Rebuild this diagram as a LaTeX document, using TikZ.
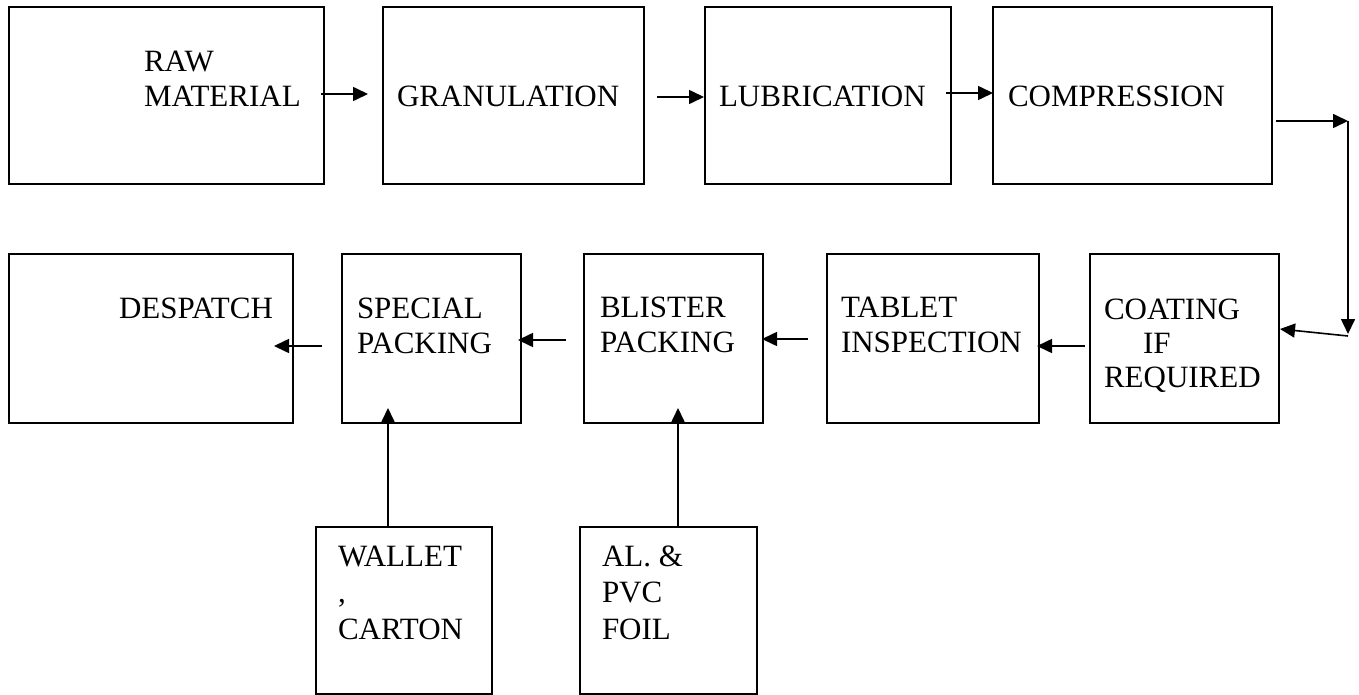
\documentclass[tikz,border=0pt]{standalone}
\usepackage{fontspec}
\setmainfont{Liberation Serif}
\usetikzlibrary{arrows.meta,calc}
\begin{document}
\begin{tikzpicture}[x=1pt,y=-1pt,
  box/.style={draw,line width=2.2pt,inner sep=0pt,outer sep=0pt},
  lbl/.style={inner sep=0pt,outer sep=0pt,align=left,anchor=base west,font=\fontsize{31}{35}\selectfont},
  arr/.style={line width=1.6pt,-{Triangle[length=15pt,width=14pt]}}]
\useasboundingbox (0,0) rectangle (1359,695);
% boxes
\node[box,minimum width=315pt,minimum height=177pt] (raw)  at (166.5,95.5) {};
\node[box,minimum width=261pt,minimum height=177pt] (gran) at (513.5,95.5) {};
\node[box,minimum width=246pt,minimum height=177pt] (lub)  at (828,95.5) {};
\node[box,minimum width=279pt,minimum height=177pt] (comp) at (1132.5,95.5) {};
\node[box,minimum width=284pt,minimum height=169pt] (desp) at (151,338.5) {};
\node[box,minimum width=179pt,minimum height=169pt] (spec) at (431.5,338.5) {};
\node[box,minimum width=179pt,minimum height=169pt] (blis) at (673.5,338.5) {};
\node[box,minimum width=212pt,minimum height=169pt] (tab)  at (933,338.5) {};
\node[box,minimum width=189pt,minimum height=169pt] (coat) at (1184.5,338.5) {};
\node[box,minimum width=176pt,minimum height=167pt] (wal)  at (404,610.5) {};
\node[box,minimum width=177pt,minimum height=167pt] (al)   at (668.5,610.5) {};
% labels (anchor = baseline of the last line)
\node[lbl] (rawt)  at (144,107) {RAW\\MATERIAL};
\node[lbl] (grant) at (397,107) {GRANULATION};
\node[lbl] (lubt)  at (719,107) {LUBRICATION};
\node[lbl] (compt) at (1008,107) {COMPRESSION};
\node[lbl] (despt) at (119,318) {DESPATCH};
\node[lbl] (spect) at (357,353) {SPECIAL\\PACKING};
\node[lbl] (blist) at (600,352) {BLISTER\\PACKING};
\node[lbl] (tabt)  at (841,352) {TABLET\\INSPECTION};
\node[lbl,font=\fontsize{31}{34}\selectfont] (coatt) at (1104,387) {COATING\\\hspace*{39pt}IF\\REQUIRED};
\node[lbl,font=\fontsize{31}{36.5}\selectfont] (walt) at (338,639) {WALLET\\,\\CARTON};
\node[lbl,font=\fontsize{31}{36.5}\selectfont] (alt) at (602,639) {AL. \&\\PVC\\FOIL};
% connectors
\coordinate (c1) at (1348,121);
\coordinate (c2) at (1348,336);
\draw[arr] ([shift={(-3,-1.5)}]raw.east) -- ([shift={(-15,-1.5)}]gran.west);
\draw[arr] ([shift={(13,1.5)}]gran.east) -- ([shift={(-1,1.5)}]lub.west);
\draw[arr] ([shift={(-5,-2.5)}]lub.east) -- ([shift={(0,-2.5)}]comp.west);
\draw[arr] ([shift={(4,25.5)}]comp.east) -- (c1);
\draw[arr] (c1) -- ([yshift=2pt]c2);
\draw[arr] (c2) -- ([shift={(1,-9.5)}]coat.east);
\draw[arr] ([shift={(-5,7.5)}]coat.west) -- ([shift={(-2,7.5)}]tab.east);
\draw[arr] ([shift={(-19,0.5)}]tab.west) -- ([shift={(-1,0.5)}]blis.east);
\draw[arr] ([shift={(-18,1.5)}]blis.west) -- ([shift={(-3,1.5)}]spec.east);
\draw[arr] ([shift={(-20,7.5)}]spec.west) -- ([shift={(-19,7.5)}]desp.east);
\draw[arr] ([xshift=-16pt]wal.north) -- ([shift={(-43.5,-15)}]spec.south);
\draw[arr] ([xshift=9.5pt]al.north) -- ([shift={(4.5,-15)}]blis.south);
\end{tikzpicture}
\end{document}
